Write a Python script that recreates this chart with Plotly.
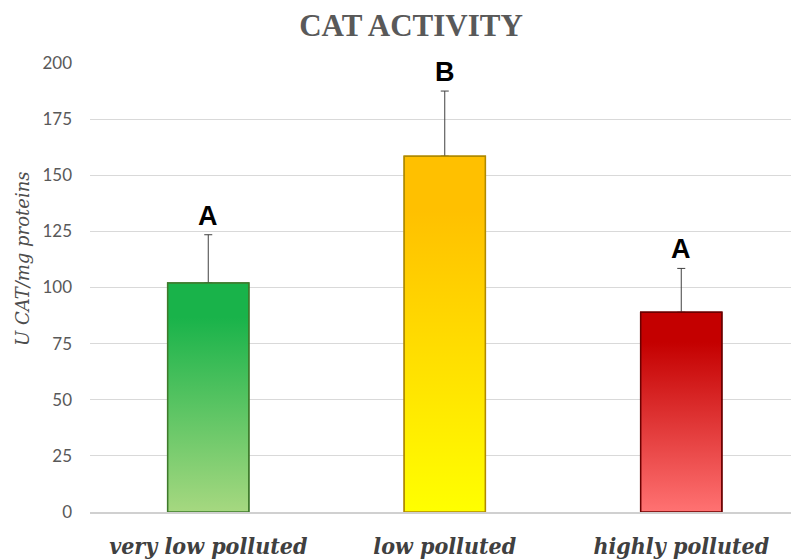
import base64
import plotly.graph_objects as go

# Catalase activity per pollution class
categories = ["very low polluted", "low polluted", "highly polluted"]
values = [102, 158.5, 89]
errors = [21.5, 29, 19.5]
letters = ["A", "B", "A"]

# gradient (top, bottom) and outline colour per bar
grad_top = ["#19b34a", "#ffc000", "#c40000"]
grad_bottom = ["#a6d880", "#ffff00", "#ff7272"]
outlines = ["#3f7a2c", "#b08a00", "#6a0000"]

y_ticks = [0, 25, 50, 75, 100, 125, 150, 175, 200]

BAR_W = 0.343
xpos = list(range(len(categories)))

# plot-area geometry in pixels (used to place the y caption)
PLOT_LEFT, PLOT_W, PLOT_BOTTOM, PLOT_H = 90, 701, 512, 449


def gradient_uri(top, bottom):
    svg = (
        '<svg xmlns="http://www.w3.org/2000/svg" width="10" height="100" '
        'viewBox="0 0 10 100" preserveAspectRatio="none">'
        '<defs><linearGradient id="g" x1="0" y1="0" x2="0" y2="1">'
        f'<stop offset="0" stop-color="{top}"/>'
        f'<stop offset="0.15" stop-color="{top}"/>'
        f'<stop offset="1" stop-color="{bottom}"/>'
        '</linearGradient></defs>'
        '<rect width="10" height="100" fill="url(#g)"/></svg>'
    )
    return "data:image/svg+xml;base64," + base64.b64encode(svg.encode()).decode()


fig = go.Figure()

fig.add_trace(
    go.Bar(
        x=xpos,
        y=values,
        width=BAR_W,
        marker=dict(color=grad_top, line=dict(color=outlines, width=1.5)),
        error_y=dict(
            type="data",
            symmetric=False,
            array=errors,
            arrayminus=[0] * len(values),
            color="#404040",
            thickness=1,
            width=4,
        ),
        hoverinfo="skip",
    )
)

# gradient fills and outlines drawn over each bar
images = []
shapes = []
for i, v in enumerate(values):
    images.append(
        dict(
            source=gradient_uri(grad_top[i], grad_bottom[i]),
            xref="x", yref="y",
            x=xpos[i] - BAR_W / 2, y=v,
            sizex=BAR_W, sizey=v,
            xanchor="left", yanchor="top",
            sizing="stretch", layer="above",
        )
    )
    shapes.append(
        dict(
            type="rect", xref="x", yref="y",
            x0=xpos[i] - BAR_W / 2, x1=xpos[i] + BAR_W / 2, y0=0, y1=v,
            line=dict(color=outlines[i], width=1.5),
            fillcolor="rgba(0,0,0,0)", layer="above",
        )
    )

annotations = [
    dict(
        x=xpos[i], y=values[i] + errors[i], xref="x", yref="y",
        text=letters[i], showarrow=False, yanchor="bottom", yshift=2,
        font=dict(family="Liberation Sans", size=27, color="#000000", weight="bold"),
    )
    for i in range(len(values))
]

# y-axis caption
annotations.append(
    dict(
        x=(22 - PLOT_LEFT) / PLOT_W, y=(PLOT_BOTTOM - 259) / PLOT_H,
        xref="paper", yref="paper", xanchor="center", yanchor="middle",
        text="<i>U CAT/mg proteins</i>", textangle=-90, showarrow=False,
        font=dict(family="DejaVu Serif", size=18, color="#4d4d4d"),
    )
)

fig.update_layout(
    width=791,
    height=560,
    margin=dict(l=PLOT_LEFT, r=0, t=63, b=48),
    paper_bgcolor="white",
    plot_bgcolor="white",
    showlegend=False,
    title=dict(
        text="<b>CAT ACTIVITY</b>",
        x=411 / 791, xanchor="center", y=0.955, yanchor="middle",
        font=dict(family="Liberation Serif", size=31, color="#595959"),
    ),
    xaxis=dict(
        range=[-0.5, 2.464],
        tickvals=xpos,
        ticktext=[f"<b><i>{c}</i></b>" for c in categories],
        tickfont=dict(family="DejaVu Serif Condensed", size=23, color="#404040"),
        showgrid=False,
        zeroline=False,
        showline=True,
        linecolor="#d0d0d0",
        linewidth=2,
        ticks="",
        ticklabelstandoff=12,
    ),
    yaxis=dict(
        range=[0, 200],
        tickvals=y_ticks,
        tickfont=dict(family="Lato", size=17, color="#595959"),
        showgrid=True,
        gridcolor="#d9d9d9",
        gridwidth=1,
        zeroline=False,
        ticks="",
        ticklabelstandoff=17,
    ),
    images=images,
    shapes=shapes,
    annotations=annotations,
)

fig.write_html("out.html")
